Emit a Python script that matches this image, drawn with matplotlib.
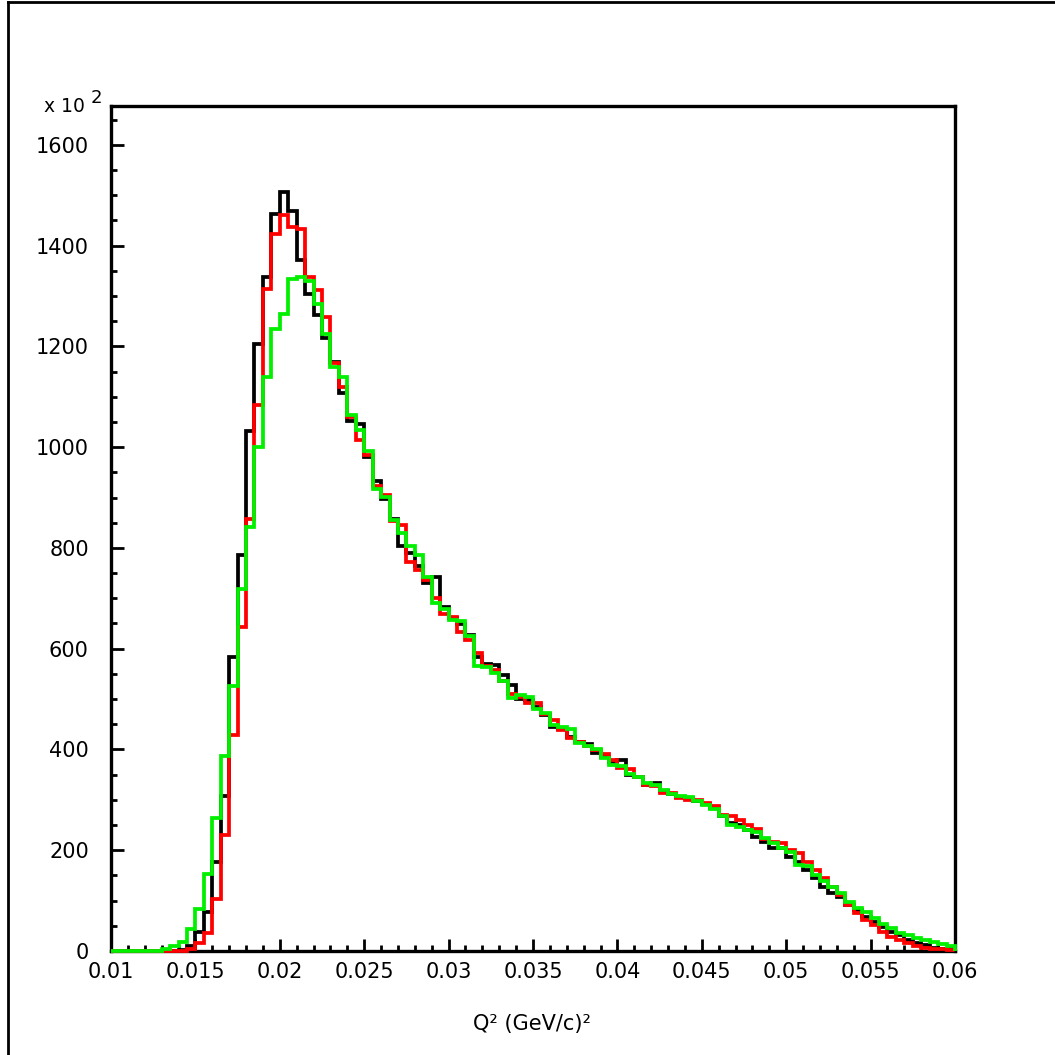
import numpy as np
import matplotlib
matplotlib.use("Agg")
import matplotlib.pyplot as plt
from matplotlib.ticker import MultipleLocator, FixedLocator
from matplotlib.lines import Line2D

# ---------------- data (units of 10^2 entries per bin) ----------------
x_min, x_max, n_bins = 0.01, 0.06, 100

black_vals = [
    0, 0, 0, 0, 0, 0, 0, 0, 1, 10,
    38, 78, 176, 307, 584, 786, 1032, 1204, 1337, 1462,
    1507, 1469, 1372, 1304, 1262, 1216, 1169, 1107, 1051, 1046,
    981, 932, 898, 858, 803, 790, 765, 730, 743, 682,
    660, 649, 627, 584, 570, 568, 548, 528, 500, 498,
    485, 468, 445, 440, 424, 415, 410, 392, 385, 375,
    379, 349, 345, 330, 333, 318, 312, 305, 303, 298,
    292, 284, 267, 254, 250, 240, 227, 217, 204, 204,
    187, 177, 161, 144, 128, 115, 108, 91, 81, 68,
    58, 48, 38, 32, 22, 15, 12, 5, 4, 3,
]

red_vals = [
    0, 0, 0, 0, 0, 0, 0, 0, 0, 4,
    15, 36, 103, 230, 428, 643, 857, 1083, 1313, 1423,
    1460, 1437, 1432, 1337, 1311, 1259, 1166, 1120, 1060, 1014,
    984, 923, 905, 854, 845, 773, 756, 736, 700, 669,
    662, 634, 617, 592, 566, 558, 535, 511, 505, 492,
    492, 470, 458, 439, 422, 415, 407, 398, 391, 380,
    363, 361, 345, 330, 328, 313, 313, 304, 300, 300,
    293, 287, 270, 267, 260, 250, 243, 222, 217, 214,
    200, 194, 177, 161, 144, 128, 111, 91, 75, 62,
    52, 38, 28, 22, 15, 9, 6, 4, 3, 2,
]

green_vals = [
    0, 0, 0, 0, 0, 0, 3, 10, 18, 43,
    83, 153, 263, 387, 526, 718, 842, 1000, 1140, 1234,
    1264, 1333, 1338, 1329, 1285, 1224, 1159, 1139, 1064, 1034,
    993, 916, 902, 855, 829, 804, 786, 743, 690, 678,
    657, 654, 625, 566, 564, 551, 535, 502, 508, 505,
    480, 473, 449, 445, 440, 412, 407, 400, 384, 369,
    367, 351, 346, 333, 330, 320, 311, 308, 306, 298,
    290, 281, 267, 250, 247, 240, 237, 224, 214, 204,
    197, 171, 169, 151, 138, 128, 116, 98, 85, 78,
    65, 54, 45, 36, 32, 25, 22, 17, 13, 9,
]

series_colors = ["#000000", "#ff0000", "#00f000"]

y_ticks = [0, 200, 400, 600, 800, 1000, 1200, 1400, 1600]
x_ticks = [0.01, 0.015, 0.02, 0.025, 0.03, 0.035, 0.04, 0.045, 0.05, 0.055, 0.06]
x_tick_labels = ["0.01", "0.015", "0.02", "0.025", "0.03", "0.035",
                 "0.04", "0.045", "0.05", "0.055", "0.06"]
y_tick_labels = [str(v) for v in y_ticks]
x_label = "Q² (GeV/c)²"
y_max = 1677

# ---------------- figure ----------------
W = H = 1055
plt.rcParams["font.family"] = ["DejaVu Sans"]
fig = plt.figure(figsize=(W / 100, H / 100), dpi=100)
fig.patch.set_facecolor("white")

left, right, top, bottom = 111, 955, 106, 951
ax = fig.add_axes([left / W, 1 - bottom / H, (right - left) / W, (bottom - top) / H])

edges = np.linspace(x_min, x_max, n_bins + 1)
for i, (vals, col) in enumerate(zip([black_vals, red_vals, green_vals], series_colors)):
    ax.stairs(vals, edges, color=col, lw=2.7, baseline=0, fill=False,
              zorder=3 + i, clip_on=False)

ax.set_xlim(x_min, x_max)
ax.set_ylim(0, y_max)

for s in ax.spines.values():
    s.set_linewidth(2.4)
    s.set_color("black")
    s.set_zorder(2.5)

ax.xaxis.set_major_locator(FixedLocator(x_ticks))
ax.xaxis.set_minor_locator(MultipleLocator(0.001))
ax.yaxis.set_major_locator(FixedLocator(y_ticks))
ax.yaxis.set_minor_locator(MultipleLocator(50))
ax.set_xticklabels(x_tick_labels)
ax.set_yticklabels(y_tick_labels)

ax.tick_params(axis="both", which="both", direction="in", top=False, right=False,
               width=2.0, color="black", labelsize=15)
ax.tick_params(axis="x", which="major", length=9, pad=8)
ax.tick_params(axis="x", which="minor", length=4.5)
ax.tick_params(axis="y", which="major", length=9, pad=16)
ax.tick_params(axis="y", which="minor", length=4.5)

# x-axis title
fig.text(532 / W, 1 - 1024 / H, x_label, ha="center", va="center", fontsize=15)

# exponent note on y-axis
fig.text(44 / W, 1 - 112 / H, "x 10", ha="left", va="baseline", fontsize=13.5)
fig.text(91 / W, 1 - 103 / H, "2", ha="left", va="baseline", fontsize=13)

# canvas border (left and top)
fig.add_artist(Line2D([8 / W, 8 / W], [0, 1 - 2 / H], transform=fig.transFigure,
                      color="black", lw=2.0))
fig.add_artist(Line2D([8 / W, 1], [1 - 2 / H, 1 - 2 / H], transform=fig.transFigure,
                      color="black", lw=2.0))

fig.savefig("out.png", dpi=100, facecolor="white")
